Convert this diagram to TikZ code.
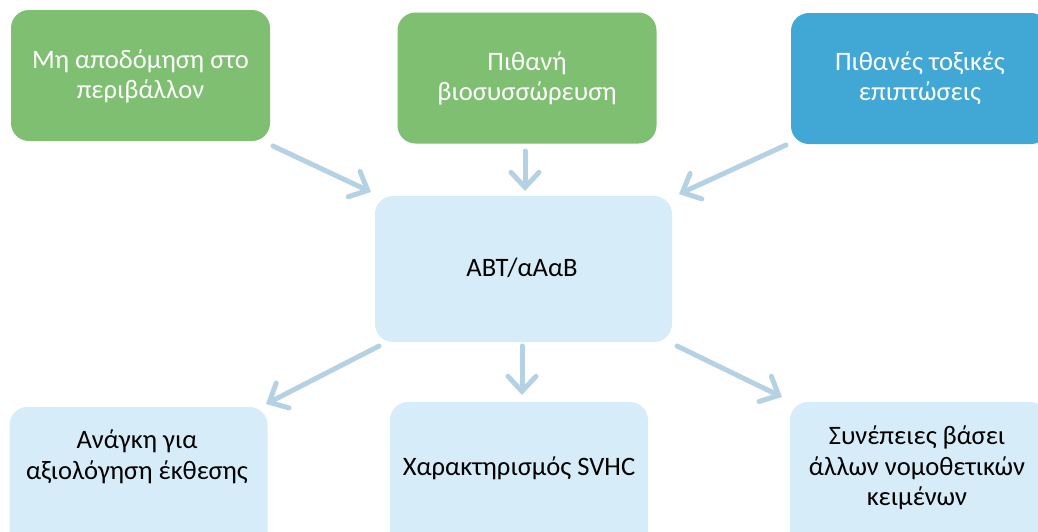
\documentclass[tikz,border=0pt]{standalone}
\usepackage{fontspec}
\setmainfont{Carlito}
\usetikzlibrary{arrows.meta}
\definecolor{gbox}{RGB}{127,191,113}
\definecolor{bbox}{RGB}{65,168,214}
\definecolor{lbox}{RGB}{214,237,249}
\definecolor{arr}{RGB}{180,210,228}
\tikzset{
  boxg/.style={draw=none,fill=gbox,rounded corners=18pt,minimum width=259pt,minimum height=131pt,inner sep=0pt},
  boxb/.style={draw=none,fill=bbox,rounded corners=18pt,minimum width=258pt,minimum height=131pt,inner sep=0pt},
  boxl/.style={draw=none,fill=lbox,rounded corners=18pt,minimum width=258pt,minimum height=146pt,inner sep=0pt},
  lbl/.style={align=center,font=\fontsize{26.6}{30.5}\selectfont,inner sep=0pt},
  wlbl/.style={lbl,text=white},
  klbl/.style={lbl,text=black},
  conn/.style={draw=arr,line width=5pt,line cap=round,-{Straight Barb[length=15pt,width=28pt,line cap=round]}}
}
\begin{document}
\begin{tikzpicture}[x=1pt,y=-1pt]
\useasboundingbox (0,0) rectangle (1038,531);
\clip (0,0) rectangle (1038,531);
% top boxes
\node[boxg] (b1) at (140.5,75.5) {};
\node[wlbl] (t1) at (140.5,76.5) {Μη αποδόμηση στο\\περιβάλλον};
\node[boxg] (b2) at (527,78) {};
\node[wlbl] (t2) at (527,78.5) {Πιθανή\\βιοσυσσώρευση};
\node[boxb] (b3) at (920,78.5) {};
\node[wlbl] (t3) at (920,78) {Πιθανές τοξικές\\επιπτώσεις};
% centre
\node[boxl,minimum width=297pt] (c) at (523.5,269) {};
\node[klbl] (tc) at (522,268) {ABT/αΑαΒ};
% bottom boxes
\node[boxl] (b4) at (138.5,480) {};
\node[klbl] (t4) at (137,457) {Ανάγκη για\\αξιολόγηση έκθεσης};
\node[boxl] (b5) at (519,475) {};
\node[klbl] (t5) at (519,468) {Χαρακτηρισμός SVHC};
\node[boxl] (b6) at (919,475) {};
\node[klbl] (t6) at (917,468) {Συνέπειες βάσει\\άλλων νομοθετικών\\κειμένων};
% connector ends
\coordinate (a1s) at (273,146);
\coordinate (a1e) at (371,192);
\coordinate (a2s) at (525,151);
\coordinate (a2e) at (525,191);
\coordinate (a3s) at (786,145);
\coordinate (a3e) at (679,194);
\coordinate (a4s) at (379,346);
\coordinate (a4e) at (266,404);
\coordinate (a5s) at (522,346);
\coordinate (a5e) at (522,395);
\coordinate (a6s) at (677,346);
\coordinate (a6e) at (782,397);
\draw[conn] (a1s) -- (a1e);
\draw[conn] (a2s) -- (a2e);
\draw[conn] (a3s) -- (a3e);
\draw[conn] (a4s) -- (a4e);
\draw[conn] (a5s) -- (a5e);
\draw[conn] (a6s) -- (a6e);
\end{tikzpicture}
\end{document}
